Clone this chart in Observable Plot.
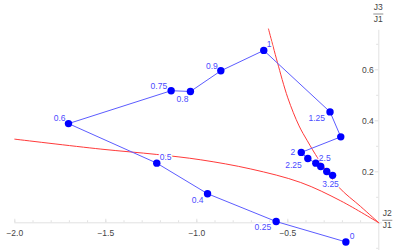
<!DOCTYPE html>
<html><head><meta charset="utf-8">
<script src="https://cdn.jsdelivr.net/npm/d3@7"></script>
<script src="https://cdn.jsdelivr.net/npm/@observablehq/plot@0.6"></script>
<style>body{margin:0;background:#fff;overflow:hidden}</style>
</head><body><div id="chart"></div>
<script>
// Parameter values along the blue path
const ratio = [0, 0.25, 0.4, 0.5, 0.6, 0.75, 0.8, 0.9, 1, 1.25, 1.5, 2, 2.25, 2.5, 2.75, 3, 3.25];
const j2 = [-0.181, -0.564, -0.941, -1.22, -1.705, -1.141, -1.035, -0.868, -0.632, -0.268, -0.209, -0.426, -0.390, -0.346, -0.319, -0.286, -0.254];
const j3 = [-0.075, 0.005, 0.114, 0.234, 0.389, 0.518, 0.515, 0.596, 0.676, 0.435, 0.337, 0.276, 0.252, 0.234, 0.221, 0.201, 0.186];
const pointLabels = ["0", "0.25", "0.4", "0.5", "0.6", "0.75", "0.8", "0.9", "1", "1.25", "", "2", "2.25", "2.5", "", "", "3.25"];

// Red boundary curves
const curveAx = [-0.606, -0.58, -0.557, -0.5, -0.438, -0.393, -0.33, -0.219, -0.1, 0];
const curveAy = [0.760, 0.69, 0.629, 0.49, 0.380, 0.322, 0.248, 0.139, 0.064, 0];
const curveBx = [-2.0, -1.527, -1.22, -0.978, -0.703, -0.429, -0.209, 0];
const curveBy = [0.328, 0.289, 0.268, 0.247, 0.211, 0.158, 0.086, 0];

// Axis ticks
const xTicks = [-2, -1.5, -1, -0.5];
const xTickLabels = ["\u22122.0", "\u22121.5", "\u22121.0", "\u22120.5"];
const xMinor = d3.range(-20, 0).map(i => i / 10);
const yTicks = [0.2, 0.4, 0.6];
const yTickLabels = ["0.2", "0.4", "0.6"];
const yMinor = [-0.1, 0.1, 0.3, 0.5, 0.7];

// label placement (style): [dx, dy, anchor]
const place = [[4,-6,"start"],[-5,6,"end"],[-4,7,"end"],[3,-6,"start"],[-3,-5,"end"],[-4,-4,"end"],[-2,8,"end"],[-3,-5,"end"],[3,-6,"start"],[-5,6,"end"],[0,0,"start"],[-6,0,"end"],[-6,7,"end"],[3,-5,"start"],[0,0,"start"],[0,0,"start"],[-2,9,"middle"]];

const pts = ratio.map((r, i) => ({r, x: j2[i], y: j3[i], label: pointLabels[i], p: place[i]}));
const cA = curveAx.map((x, i) => ({x, y: curveAy[i]}));
const cB = curveBx.map((x, i) => ({x, y: curveBy[i]}));

const font = "Liberation Sans, Arial, sans-serif";
const axisCol = "#e2e2e2";
const labelMarks = pts.filter(d => d.label).map(d =>
  Plot.text([d], {x: "x", y: "y", text: "label", dx: d.p[0], dy: d.p[1], textAnchor: d.p[2],
    fill: "#4b4bff", stroke: "white", strokeWidth: 3, fontSize: 8.5, fontFamily: font}));

const plot = Plot.plot({
  width: 400, height: 250,
  marginLeft: 0, marginRight: 0, marginTop: 0, marginBottom: 0,
  x: {domain: [-2, 0], range: [14.3, 378.3], axis: null},
  y: {domain: [0, 0.7], range: [222.3, 43.8], axis: null},
  style: {fontFamily: font, background: "white"},
  marks: [
    Plot.ruleY([0], {x1: -2.0, x2: 0.02, stroke: axisCol}),
    Plot.ruleX([0], {y1: -0.12, y2: 0.755, stroke: axisCol}),
    Plot.ruleX(xMinor, {x: d => d, y1: 0, y2: 0.008, stroke: axisCol}),
    Plot.ruleX(xTicks, {x: d => d, y1: 0, y2: 0.014, stroke: axisCol}),
    Plot.ruleY(yMinor, {y: d => d, x1: 0, x2: -0.012, stroke: axisCol}),
    Plot.ruleY(yTicks, {y: d => d, x1: 0, x2: -0.02, stroke: axisCol}),
    Plot.text(xTicks, {x: d => d, y: 0, text: (d, i) => xTickLabels[i], dy: 10, fill: "#444", fontSize: 8.5}),
    Plot.text(yTicks, {x: 0, y: d => d, text: (d, i) => yTickLabels[i], dx: -5, textAnchor: "end", fill: "#444", fontSize: 8.5}),
    Plot.line(cB, {x: "x", y: "y", stroke: "#ff3a3a", strokeWidth: 1, curve: "catmull-rom"}),
    Plot.line(cA, {x: "x", y: "y", stroke: "#ff3a3a", strokeWidth: 1, curve: "catmull-rom"}),
    Plot.line(pts, {x: "x", y: "y", stroke: "#5c5cff", strokeWidth: 1}),
    ...labelMarks,
    Plot.dot(pts, {x: "x", y: "y", r: 3.7, fill: "#0000ff"})
  ]
});

// Fraction axis labels
const svg = d3.select(plot);
const sx = plot.scale("x"), sy = plot.scale("y");
function fraction(cx, cyTop, num, den) {
  const g = svg.append("g").attr("font-family", font).attr("font-size", 8.5).attr("fill", "#444").attr("text-anchor", "middle");
  g.append("text").attr("x", cx).attr("y", cyTop).text(num);
  g.append("line").attr("x1", cx - 5).attr("x2", cx + 5).attr("y1", cyTop + 4).attr("y2", cyTop + 4).attr("stroke", "#444").attr("stroke-width", 0.6);
  g.append("text").attr("x", cx).attr("y", cyTop + 12).text(den);
}
const x0 = sx.apply(0), y0 = sy.apply(0);
fraction(x0, 10, "J3", "J1");
fraction(x0 + 9, y0 - 6, "J2", "J1");

document.getElementById("chart").appendChild(plot);
</script>
</body></html>
